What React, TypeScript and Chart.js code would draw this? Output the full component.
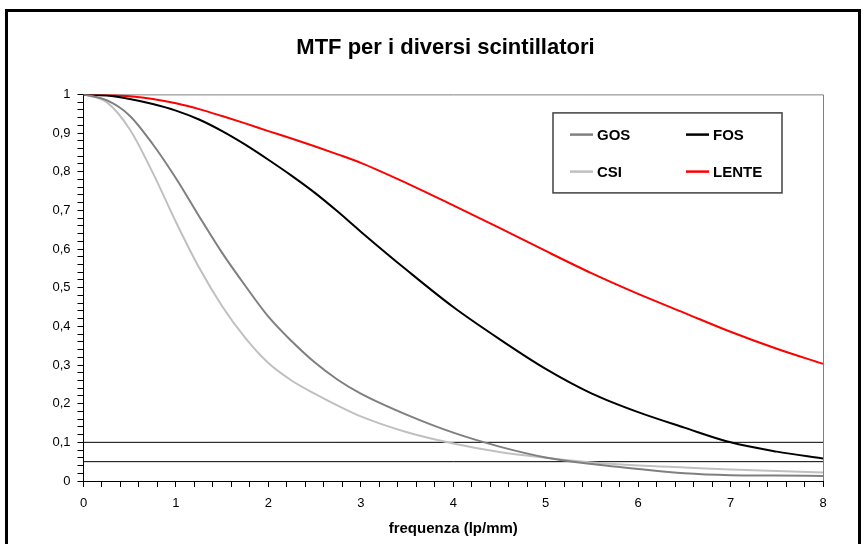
import React, { useEffect, useRef } from "react";
import { Chart, registerables } from "chart.js";

Chart.register(...registerables);

// ---- data ----
const freq = [0, 0.25, 0.5, 0.75, 1, 1.25, 1.5, 1.75, 2, 2.25, 2.5, 2.75, 3, 3.5, 4, 4.5, 5, 5.5, 6, 6.5, 7, 7.5, 8];
const gos = [1, 0.985, 0.945, 0.871, 0.783, 0.685, 0.59, 0.505, 0.425, 0.362, 0.307, 0.262, 0.226, 0.171, 0.125, 0.089, 0.061, 0.044, 0.031, 0.02, 0.015, 0.014, 0.013];
const fos = [1, 0.997, 0.988, 0.975, 0.958, 0.935, 0.905, 0.87, 0.831, 0.79, 0.746, 0.697, 0.645, 0.545, 0.45, 0.367, 0.29, 0.226, 0.178, 0.138, 0.1, 0.076, 0.058];
const csi = [1, 0.98, 0.91, 0.797, 0.67, 0.552, 0.452, 0.37, 0.305, 0.26, 0.226, 0.195, 0.167, 0.126, 0.097, 0.075, 0.06, 0.048, 0.04, 0.035, 0.03, 0.026, 0.022];
const lente = [1, 0.999, 0.995, 0.988, 0.977, 0.962, 0.944, 0.925, 0.905, 0.886, 0.866, 0.845, 0.823, 0.77, 0.713, 0.655, 0.595, 0.537, 0.484, 0.435, 0.386, 0.342, 0.303];
const seriesNames = ["GOS", "FOS", "CSI", "LENTE"];
const seriesColors = ["#808080", "#000000", "#C0C0C0", "#FF0000"];
const refLevels = [0.1, 0.05];
const chartTitle = "MTF per i diversi scintillatori";
const xTitle = "frequenza (lp/mm)";
const xMin = 0;
const xMax = 8;
const yMin = 0;
const yMax = 1;

const FONT = '"Liberation Sans", Arial, sans-serif';

const frame = {
  id: "frame",
  beforeDatasetsDraw(chart: any) {
    const { ctx, chartArea: a } = chart;
    ctx.save();
    ctx.strokeStyle = "#808080";
    ctx.lineWidth = 1;
    ctx.beginPath();
    ctx.moveTo(a.left, a.top + 0.5);
    ctx.lineTo(a.right + 0.5, a.top + 0.5);
    ctx.lineTo(a.right + 0.5, a.bottom);
    ctx.stroke();
    ctx.restore();
  },
};

const boxLegend = {
  id: "boxLegend",
  afterDatasetsDraw(chart: any) {
    const { ctx, chartArea: a } = chart;
    const items = chart.data.datasets.filter((d: any) => !d.isRef);
    const bx = a.left + 469.5;
    const by = a.top + 18.5;
    const bw = 229;
    const bh = 80;
    ctx.save();
    ctx.fillStyle = "#ffffff";
    ctx.fillRect(bx, by, bw, bh);
    ctx.strokeStyle = "#404040";
    ctx.lineWidth = 1.5;
    ctx.strokeRect(bx, by, bw, bh);
    ctx.font = `bold 15px ${FONT}`;
    ctx.textBaseline = "middle";
    ctx.textAlign = "left";
    items.forEach((d: any, i: number) => {
      const col = i % 2;
      const row = Math.floor(i / 2);
      const lx = bx + 17 + col * 116;
      const ly = by + 21.7 + row * 37;
      ctx.strokeStyle = d.borderColor;
      ctx.lineWidth = 2.5;
      ctx.beginPath();
      ctx.moveTo(lx, ly);
      ctx.lineTo(lx + 23, ly);
      ctx.stroke();
      ctx.fillStyle = "#000000";
      ctx.fillText(d.label, lx + 27, ly + 1);
    });
    ctx.restore();
  },
};

function fmtY(v: number) {
  const r = Math.round(v * 10);
  if (Math.abs(v * 10 - r) > 1e-6) return "";
  if (r === 0) return "0";
  if (r === 10) return "1";
  return (r / 10).toFixed(1).replace(".", ",");
}

function fmtX(v: number) {
  const r = Math.round(v);
  if (Math.abs(v - r) > 1e-6) return "";
  return String(r);
}

export default function App() {
  const ref = useRef<HTMLCanvasElement>(null);

  useEffect(() => {
    if (!ref.current) return;
    const values = [gos, fos, csi, lente];
    const datasets: any[] = values.map((vals, i) => ({
      label: seriesNames[i],
      data: freq.map((x, j) => ({ x, y: vals[j] })),
      borderColor: seriesColors[i],
      backgroundColor: seriesColors[i],
      borderWidth: 2,
      pointRadius: 0,
      fill: false,
      cubicInterpolationMode: "monotone",
      order: 1,
    }));
    refLevels.forEach((lvl) => {
      datasets.push({
        label: "",
        isRef: true,
        data: [
          { x: xMin, y: lvl },
          { x: xMax, y: lvl },
        ],
        borderColor: "#000000",
        borderWidth: 1,
        pointRadius: 0,
        fill: false,
        order: 2,
      });
    });

    const chart = new Chart(ref.current, {
      type: "line",
      data: { datasets },
      plugins: [frame, boxLegend],
      options: {
        responsive: false,
        animation: false,
        devicePixelRatio: 1,
        layout: { padding: { left: 0, right: 0, top: 0, bottom: 0 } },
        plugins: {
          legend: { display: false },
          tooltip: { enabled: false },
          title: {
            display: true,
            text: chartTitle,
            color: "#000000",
            font: { family: FONT, size: 22, weight: "bold" },
            padding: { top: 23, bottom: 33 },
          },
        },
        scales: {
          x: {
            type: "linear",
            min: xMin,
            max: xMax,
            afterFit: (s: any) => {
              s.height = 63;
            },
            border: { display: true, color: "#000000", width: 1 },
            grid: {
              drawOnChartArea: false,
              drawTicks: true,
              tickLength: 6,
              color: "#000000",
            },
            ticks: {
              stepSize: 0.2,
              maxTicksLimit: 100,
              autoSkip: false,
              maxRotation: 0,
              padding: 9,
              color: "#000000",
              font: { family: FONT, size: 13 },
              callback: (v: any) => fmtX(Number(v)),
            },
            title: {
              display: true,
              text: xTitle,
              color: "#000000",
              font: { family: FONT, size: 15, weight: "bold" },
              padding: { top: 4, bottom: 6 },
            },
          },
          y: {
            type: "linear",
            min: yMin,
            max: yMax,
            afterFit: (s: any) => {
              s.width = 75.5;
            },
            border: { display: true, color: "#000000", width: 1 },
            grid: {
              drawOnChartArea: false,
              drawTicks: true,
              tickLength: 6,
              color: "#000000",
            },
            ticks: {
              stepSize: 0.02,
              maxTicksLimit: 100,
              autoSkip: false,
              padding: 7,
              color: "#000000",
              font: { family: FONT, size: 13 },
              callback: (v: any) => fmtY(Number(v)),
            },
          },
          yRightSpace: {
            type: "linear",
            position: "right",
            min: yMin,
            max: yMax,
            afterFit: (s: any) => {
              s.width = 60;
            },
            border: { display: false },
            grid: { display: false, drawOnChartArea: false, drawTicks: false },
            ticks: { display: false },
          },
        },
      } as any,
    });
    return () => chart.destroy();
  }, []);

  return (
    <div
      style={{
        position: "absolute",
        left: 5,
        top: 9,
        width: 856,
        height: 560,
        boxSizing: "border-box",
        border: "3px solid #000000",
        overflow: "hidden",
        background: "#ffffff",
      }}
    >
      <canvas ref={ref} width={875} height={532} style={{ display: "block", width: 875, height: 532 }} />
    </div>
  );
}
